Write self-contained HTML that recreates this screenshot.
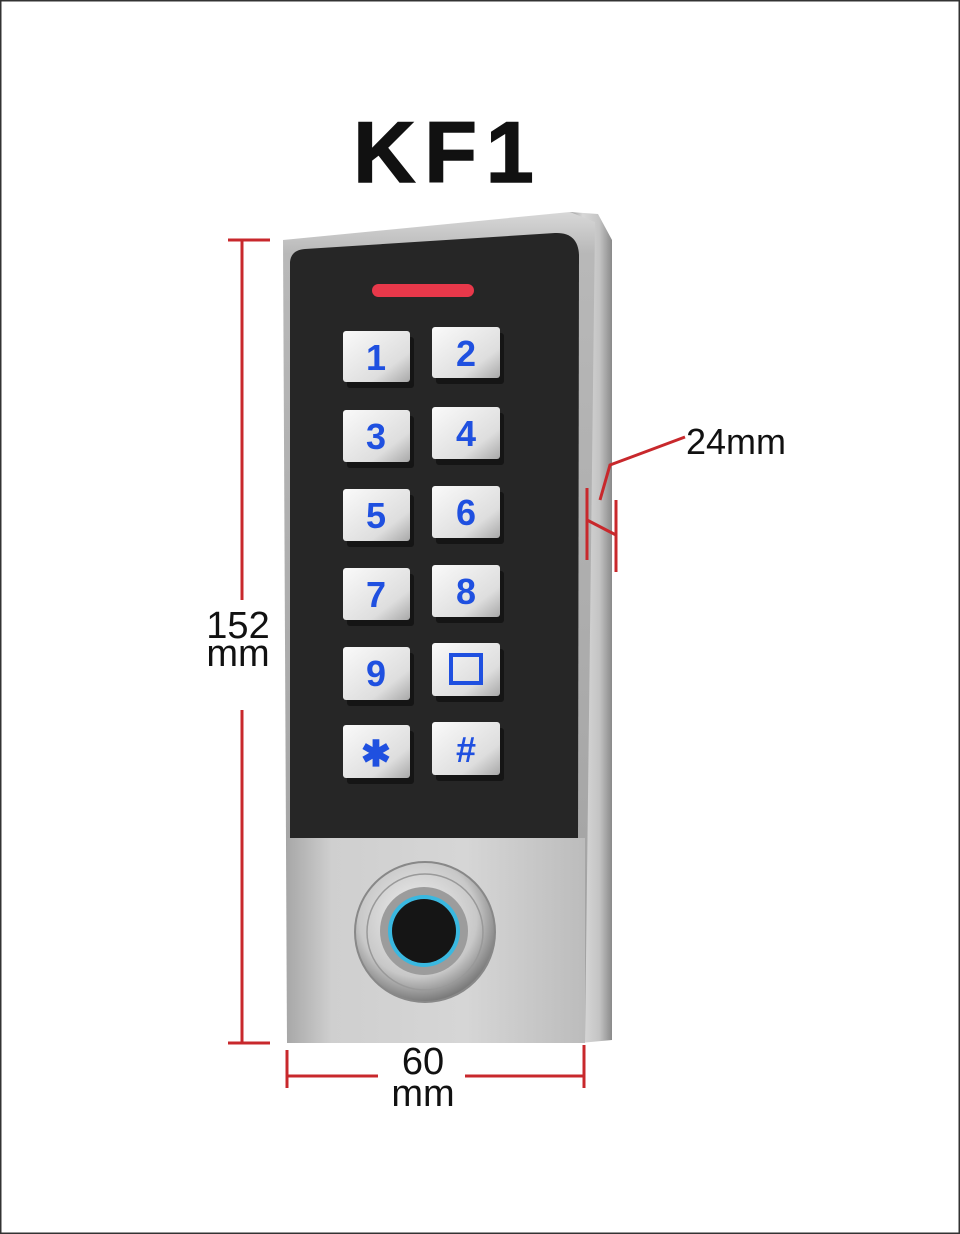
<!DOCTYPE html>
<html><head><meta charset="utf-8"><style>
html,body{margin:0;padding:0;background:#fff;}
svg{display:block;}
text{font-family:"Liberation Sans",sans-serif;}
</style></head><body>
<svg width="960" height="1234" viewBox="0 0 960 1234" xmlns="http://www.w3.org/2000/svg">
<defs>
<linearGradient id="side" x1="0" x2="1" y1="0" y2="0">
<stop offset="0" stop-color="#9a9a9a"/><stop offset="0.3" stop-color="#d8d8d8"/><stop offset="0.7" stop-color="#c4c4c4"/><stop offset="1" stop-color="#8a8a8a"/></linearGradient>
<linearGradient id="bot" x1="0" x2="1" y1="0" y2="0">
<stop offset="0" stop-color="#a8a8a8"/><stop offset="0.15" stop-color="#cfcfcf"/><stop offset="0.6" stop-color="#d6d6d6"/><stop offset="1" stop-color="#bcbcbc"/></linearGradient>
<linearGradient id="top" x1="0" x2="0" y1="0" y2="1">
<stop offset="0" stop-color="#d8d8d8"/><stop offset="0.05" stop-color="#b8b8b8"/><stop offset="1" stop-color="#a0a0a0"/></linearGradient>
<linearGradient id="key" x1="0" x2="1" y1="0" y2="1">
<stop offset="0" stop-color="#fafafa"/><stop offset="0.7" stop-color="#dedede"/><stop offset="1" stop-color="#a8a8a8"/></linearGradient>
<radialGradient id="ring" cx="0.45" cy="0.4" r="0.6">
<stop offset="0" stop-color="#f4f4f4"/><stop offset="0.7" stop-color="#c8c8c8"/><stop offset="1" stop-color="#7a7a7a"/></radialGradient>
</defs>
<rect x="0" y="0" width="960" height="1234" fill="#fff" stroke="#333" stroke-width="3"/>
<text x="448" y="182" text-anchor="middle" font-size="86" font-weight="bold" fill="#111" stroke="#111" stroke-width="1.5" letter-spacing="9">KF1</text>

<path d="M570 212 L598 214 L612 240 L612 1040 L580 1043 Z" fill="url(#side)"/>
<path d="M283 240 L570 212 L595 222 L585 1043 L287 1043 Z" fill="url(#top)"/>
<rect x="287" y="838" width="298" height="205" fill="url(#bot)"/>
<path d="M290 262 Q291 250 305 249 L555 233 Q578 232 579 255 L578 838 L290 838 Z" fill="#262626"/>
<rect x="372" y="284" width="102" height="13" rx="6.5" fill="#e8384a"/>
<g fill="#111" opacity="0.8">
<rect x="347" y="337" width="67" height="51" rx="3"/><rect x="436" y="333" width="68" height="51" rx="3"/>
<rect x="347" y="416" width="67" height="52" rx="3"/><rect x="436" y="413" width="68" height="52" rx="3"/>
<rect x="347" y="495" width="67" height="52" rx="3"/><rect x="436" y="492" width="68" height="52" rx="3"/>
<rect x="347" y="574" width="67" height="52" rx="3"/><rect x="436" y="571" width="68" height="52" rx="3"/>
<rect x="347" y="653" width="67" height="53" rx="3"/><rect x="436" y="649" width="68" height="53" rx="3"/>
<rect x="347" y="731" width="67" height="53" rx="3"/><rect x="436" y="728" width="68" height="53" rx="3"/>
</g>
<g font-size="36" font-weight="bold" fill="#1f50e0" text-anchor="middle">
<rect x="343" y="331" width="67" height="51" rx="3" fill="url(#key)"/><text x="376" y="370">1</text>
<rect x="432" y="327" width="68" height="51" rx="3" fill="url(#key)"/><text x="466" y="366">2</text>
<rect x="343" y="410" width="67" height="52" rx="3" fill="url(#key)"/><text x="376" y="449">3</text>
<rect x="432" y="407" width="68" height="52" rx="3" fill="url(#key)"/><text x="466" y="446">4</text>
<rect x="343" y="489" width="67" height="52" rx="3" fill="url(#key)"/><text x="376" y="528">5</text>
<rect x="432" y="486" width="68" height="52" rx="3" fill="url(#key)"/><text x="466" y="525">6</text>
<rect x="343" y="568" width="67" height="52" rx="3" fill="url(#key)"/><text x="376" y="607">7</text>
<rect x="432" y="565" width="68" height="52" rx="3" fill="url(#key)"/><text x="466" y="604">8</text>
<rect x="343" y="647" width="67" height="53" rx="3" fill="url(#key)"/><text x="376" y="686">9</text>
<rect x="432" y="643" width="68" height="53" rx="3" fill="url(#key)"/><rect x="451" y="655" width="30" height="28" fill="none" stroke="#1f50e0" stroke-width="4"/>
<rect x="343" y="725" width="67" height="53" rx="3" fill="url(#key)"/><text x="376" y="766">✱</text>
<rect x="432" y="722" width="68" height="53" rx="3" fill="url(#key)"/><text x="466" y="762">#</text>
</g>
<circle cx="425" cy="932" r="70" fill="url(#ring)" stroke="#888" stroke-width="2"/>
<circle cx="425" cy="932" r="58" fill="none" stroke="#999" stroke-width="1.5"/>
<circle cx="424" cy="931" r="44" fill="#9c9c9c"/>
<circle cx="424" cy="931" r="36" fill="#3ab8e0"/>
<circle cx="424" cy="931" r="32" fill="#151515"/>

<g stroke="#c8282c" stroke-width="3">
<line x1="242" y1="240" x2="242" y2="600"/>
<line x1="242" y1="710" x2="242" y2="1043"/>
<line x1="228" y1="240" x2="270" y2="240"/>
<line x1="228" y1="1043" x2="270" y2="1043"/>
<line x1="287" y1="1076" x2="378" y2="1076"/>
<line x1="465" y1="1076" x2="584" y2="1076"/>
<line x1="287" y1="1050" x2="287" y2="1088"/>
<line x1="584" y1="1045" x2="584" y2="1088"/>
<polyline points="685,437 610,465 600,500" fill="none"/>
<line x1="587" y1="488" x2="587" y2="560"/>
<line x1="616" y1="500" x2="616" y2="572"/>
<line x1="587" y1="520" x2="616" y2="535"/>
</g>
<g fill="#111" font-size="38" text-anchor="middle">
<text x="238" y="638">152</text>
<text x="238" y="666">mm</text>
<text x="423" y="1074">60</text>
<text x="423" y="1106">mm</text>
</g>
<text x="686" y="454" font-size="36" fill="#111">24mm</text>
</svg>
</body></html>
